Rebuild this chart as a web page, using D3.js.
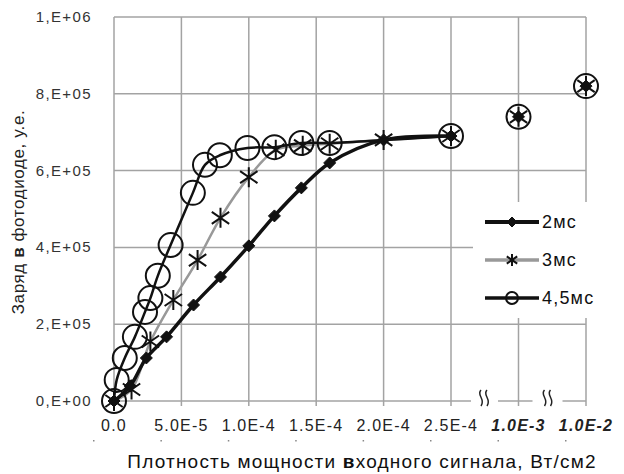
<!DOCTYPE html>
<html>
<head>
<meta charset="utf-8">
<script src="https://cdn.jsdelivr.net/npm/d3@7"></script>
<style>
  body { margin: 0; background: #fff; }
  svg { display: block; }
  text { font-family: "Liberation Sans", Arial, sans-serif; }
</style>
</head>
<body>
<div id="chart"></div>
<script>
// data
var seriesNames = ["2мс", "3мс", "4,5мс"];

var x2 = [0, 1.2e-5, 2.4e-5, 3.9e-5, 5.9e-5, 7.9e-5, 1.0e-4, 1.19e-4, 1.39e-4, 1.6e-4, 2.0e-4, 2.5e-4];
var y2 = [0, 3.9e4, 1.12e5, 1.67e5, 2.5e5, 3.23e5, 4.04e5, 4.82e5, 5.55e5, 6.2e5, 6.8e5, 6.9e5];

var x3 = [0, 1.3e-5, 2.7e-5, 4.4e-5, 6.2e-5, 7.9e-5, 1.0e-4, 1.2e-4, 1.4e-4, 1.6e-4, 2.0e-4, 2.5e-4];
var y3 = [0, 3.0e4, 1.55e5, 2.63e5, 3.67e5, 4.77e5, 5.83e5, 6.54e5, 6.65e5, 6.7e5, 6.8e5, 6.9e5];

var x45 = [0, 2e-6, 8e-6, 1.55e-5, 2.3e-5, 2.7e-5, 3.25e-5, 4.2e-5, 5.85e-5, 6.75e-5, 7.85e-5, 9.9e-5, 1.19e-4, 1.39e-4, 1.6e-4, 2.5e-4];
var y45 = [0, 5.5e4, 1.12e5, 1.67e5, 2.32e5, 2.68e5, 3.26e5, 4.06e5, 5.42e5, 6.15e5, 6.4e5, 6.59e5, 6.61e5, 6.72e5, 6.72e5, 6.9e5];

// separate points beyond the axis break (not joined by lines)
var xFar = [1e-3, 1e-2];
var yFar = [7.4e5, 8.2e5];

var xTicks = [0, 5e-5, 1e-4, 1.5e-4, 2e-4, 2.5e-4, 1e-3, 1e-2];
var xTickLabels = ["0.0", "5.0E-5", "1.0E-4", "1.5E-4", "2.0E-4", "2.5E-4", "1.0E-3", "1.0E-2"];
var yTicks = [0, 2e5, 4e5, 6e5, 8e5, 1e6];
var yTickLabels = ["0,E+00", "2,E+05", "4,E+05", "6,E+05", "8,E+05", "1,E+06"];

var width = 624, height = 474;
var margin = {left: 114, right: 38, top: 17, bottom: 73};

var svg = d3.select("#chart").append("svg")
  .attr("width", width).attr("height", height);

// broken axis: linear up to 2.5E-4, then one step per decade
var x = d3.scaleLinear()
  .domain([0, 2.5e-4, 1e-3, 1e-2])
  .range([margin.left, 451, 518.5, width - margin.right]);
var y = d3.scaleLinear()
  .domain([0, 1e6])
  .range([height - margin.bottom, margin.top]);

var gridColor = "#a3a3a3";
var y0 = y(0);

// gridlines
svg.append("g").selectAll("line").data(yTicks.slice(1)).enter().append("line")
  .attr("x1", x(0)).attr("x2", x(1e-2))
  .attr("y1", function(d) { return y(d); }).attr("y2", function(d) { return y(d); })
  .attr("stroke", gridColor).attr("stroke-width", 1.5);

svg.append("g").selectAll("line").data(xTicks).enter().append("line")
  .attr("x1", function(d) { return x(d); }).attr("x2", function(d) { return x(d); })
  .attr("y1", y(1e6)).attr("y2", y0 + 5)
  .attr("stroke", gridColor).attr("stroke-width", 1.5);

// x axis with breaks
var axisSegs = [[x(0), x(2.5e-4) + 20], [x(2.5e-4) + 47, x(1e-3) + 14], [x(1e-3) + 44, x(1e-2)]];
svg.append("g").selectAll("line").data(axisSegs).enter().append("line")
  .attr("x1", function(d) { return d[0]; }).attr("x2", function(d) { return d[1]; })
  .attr("y1", y0).attr("y2", y0)
  .attr("stroke", gridColor).attr("stroke-width", 1.5);

function squiggle(cx, cy) {
  var p = d3.path();
  p.moveTo(cx - 1, cy - 8);
  p.bezierCurveTo(cx - 6, cy - 3, cx + 4, cy + 1, cx - 1, cy + 8);
  return p.toString();
}
[x(2.5e-4) + 34, x(1e-3) + 30].forEach(function(cx) {
  [-3, 3].forEach(function(dx) {
    svg.append("path").attr("d", squiggle(cx + dx, y0 - 3))
      .attr("fill", "none").attr("stroke", "#222").attr("stroke-width", 1.5);
  });
});

// tick labels
svg.append("g").selectAll("text").data(yTicks).enter().append("text")
  .attr("x", 92).attr("y", function(d) { return y(d) + 5; })
  .attr("text-anchor", "end").attr("font-size", 15).attr("fill", "#333")
  .attr("letter-spacing", 1.4)
  .text(function(d, i) { return yTickLabels[i]; });

svg.append("g").selectAll("text").data(xTicks).enter().append("text")
  .attr("x", function(d) { return x(d); }).attr("y", y0 + 30)
  .attr("text-anchor", "middle").attr("font-size", 16).attr("fill", "#222")
  .attr("letter-spacing", 1.2)
  .attr("font-weight", function(d) { return d >= 1e-3 ? "bold" : "normal"; })
  .attr("font-style", function(d) { return d >= 1e-3 ? "italic" : "normal"; })
  .text(function(d, i) { return xTickLabels[i]; });

// little specks under the tick labels
svg.append("g").selectAll("rect").data(xTicks).enter().append("rect")
  .attr("x", function(d) { return x(d) - 21; }).attr("y", y0 + 39)
  .attr("width", 1.5).attr("height", 1.5).attr("fill", "#888");

// axis titles
svg.append("text")
  .attr("transform", "translate(24," + 212 + ") rotate(-90)")
  .attr("text-anchor", "middle").attr("font-size", 17).attr("fill", "#222")
  .attr("letter-spacing", 0.6)
  .html('Заряд <tspan font-weight="bold">в</tspan> фотодиоде, у.е.');

svg.append("text")
  .attr("x", 362).attr("y", 468)
  .attr("text-anchor", "middle").attr("font-size", 19).attr("fill", "#111")
  .attr("letter-spacing", 1.2)
  .attr("font-family", "'Open Sans', sans-serif")
  .html('Плотность мощности <tspan font-weight="bold">в</tspan>ходного сигнала, Вт/см2');

// markers
function diamond(g, cx, cy, s) {
  g.append("path")
    .attr("d", "M" + cx + "," + (cy - s) + "L" + (cx + s) + "," + cy + "L" + cx + "," + (cy + s) + "L" + (cx - s) + "," + cy + "Z")
    .attr("fill", "#111").attr("stroke", "#111").attr("stroke-width", 1);
}
function star(g, cx, cy, s) {
  var p = d3.path();
  p.moveTo(cx, cy - s); p.lineTo(cx, cy + s);
  p.moveTo(cx - s * 0.87, cy - s * 0.6); p.lineTo(cx + s * 0.87, cy + s * 0.6);
  p.moveTo(cx - s * 0.87, cy + s * 0.6); p.lineTo(cx + s * 0.87, cy - s * 0.6);
  g.append("path").attr("d", p.toString())
    .attr("stroke", "#111").attr("stroke-width", 2).attr("fill", "none");
}
function ring(g, cx, cy, r) {
  g.append("circle").attr("cx", cx).attr("cy", cy).attr("r", r)
    .attr("fill", "none").attr("stroke", "#111").attr("stroke-width", 2);
}

var line = d3.line()
  .x(function(d) { return x(d[0]); })
  .y(function(d) { return y(d[1]); })
  .curve(d3.curveCatmullRom.alpha(0.5));

var d2 = d3.zip(x2, y2), d3s = d3.zip(x3, y3), d45 = d3.zip(x45, y45), dFar = d3.zip(xFar, yFar);

// legend box (covers gridlines)
svg.append("rect").attr("x", 473).attr("y", 202).attr("width", 151).attr("height", 116).attr("fill", "#fff");

var g3 = svg.append("g");
g3.append("path").attr("d", line(d3s)).attr("fill", "none").attr("stroke", "#999").attr("stroke-width", 2.5);

var g2 = svg.append("g");
g2.append("path").attr("d", line(d2)).attr("fill", "none").attr("stroke", "#111").attr("stroke-width", 3.5);

var g45 = svg.append("g");
g45.append("path").attr("d", line(d45)).attr("fill", "none").attr("stroke", "#111").attr("stroke-width", 2.5);

d2.concat(dFar).forEach(function(d) { diamond(g2, x(d[0]), y(d[1]), 6); });
d3s.concat(dFar).forEach(function(d) { star(g3, x(d[0]), y(d[1]), 10); });
d45.concat(dFar).forEach(function(d) { ring(g45, x(d[0]), y(d[1]), 12); });

// legend
var legend = svg.append("g");
var legY = [222, 260, 298];
var legStroke = [["#111", 4], ["#999", 3.5], ["#111", 3.5]];
seriesNames.forEach(function(name, i) {
  var ly = legY[i];
  legend.append("line").attr("x1", 485).attr("x2", 539).attr("y1", ly).attr("y2", ly)
    .attr("stroke", legStroke[i][0]).attr("stroke-width", legStroke[i][1]);
  if (i === 0) diamond(legend, 512, ly, 5);
  if (i === 1) star(legend, 512, ly, 6);
  if (i === 2) ring(legend, 512, ly, 6);
  legend.append("text").attr("x", 542).attr("y", ly + 6)
    .attr("font-size", 18).attr("fill", "#111").attr("letter-spacing", 1.2)
    .attr("font-family", "'Open Sans', sans-serif")
    .text(name);
});
</script>
</body>
</html>
